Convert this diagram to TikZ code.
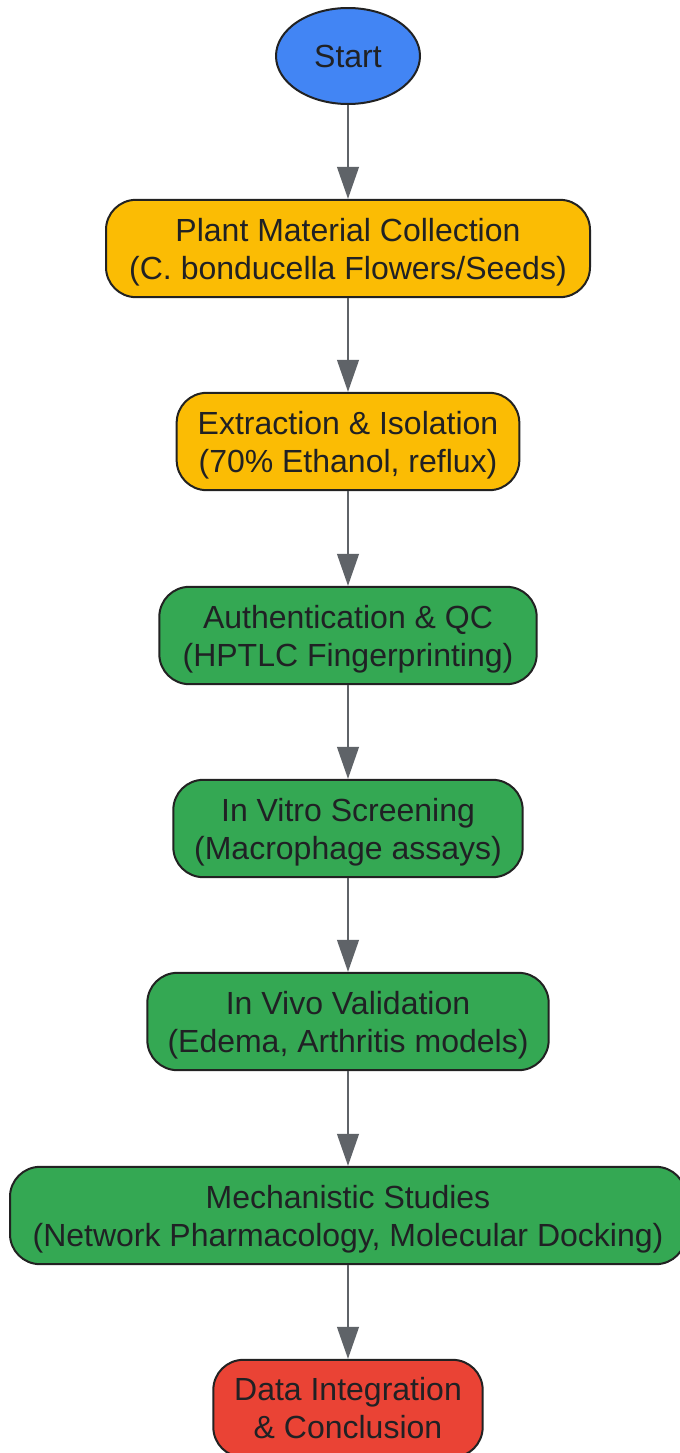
\documentclass[tikz,border=0pt]{standalone}
\usepackage{fontspec}
\setmainfont{Liberation Sans}
\usetikzlibrary{arrows.meta,shapes.geometric}
\definecolor{cblue}{HTML}{4285F4}
\definecolor{cyellow}{HTML}{FBBC04}
\definecolor{cgreen}{HTML}{34A853}
\definecolor{cred}{HTML}{EA4335}
\definecolor{cstroke}{HTML}{222222}
\definecolor{ctext}{HTML}{202124}
\definecolor{carrow}{HTML}{5F6368}
\newcommand{\mytopstrut}{\rule{0pt}{23.5pt}}
\tikzset{
  base/.style={draw=cstroke, line width=1.5pt, text=ctext, inner sep=0pt,
    font=\fontsize{24}{28.5}\selectfont, align=center},
  startnode/.style={base, ellipse, fill=cblue, minimum width=108pt, minimum height=72pt},
  stepbox/.style={base, rectangle, rounded corners=22.5pt, minimum height=73pt},
  yellowbox/.style={stepbox, fill=cyellow},
  greenbox/.style={stepbox, fill=cgreen},
  redbox/.style={stepbox, fill=cred},
  flow/.style={draw=carrow, line width=1.5pt, -{Triangle[length=24pt, width=16.3pt]}, shorten >=0pt}
}
\begin{document}
\begin{tikzpicture}[x=0.75pt, y=-0.75pt]
\useasboundingbox[fill=white] (0,0) rectangle (679,1453);
\node[startnode] (start) at (348,56) {Start};
\node[yellowbox, minimum width=363pt] (plant) at (348,248.5) {\mytopstrut Plant Material Collection\\(C. bonducella Flowers/Seeds)};
\node[yellowbox, minimum width=257pt] (extract) at (348,441.5) {\mytopstrut Extraction \& Isolation\\(70\% Ethanol, reflux)};
\node[greenbox, minimum width=283pt] (auth) at (348,635.5) {\mytopstrut Authentication \& QC\\(HPTLC Fingerprinting)};
\node[greenbox, minimum width=262pt] (vitro) at (348,828.5) {\mytopstrut In Vitro Screening\\(Macrophage assays)};
\node[greenbox, minimum width=301pt] (vivo) at (348,1021.5) {\mytopstrut In Vivo Validation\\(Edema, Arthritis models)};
\node[greenbox, minimum width=507pt] (mech) at (348,1215.5) {\mytopstrut Mechanistic Studies\\(Network Pharmacology, Molecular Docking)};
\node[redbox, minimum width=202pt] (data) at (348,1408.5) {Data Integration\\\& Conclusion};
\draw[flow] (start) -- (plant);
\draw[flow] (plant) -- (extract);
\draw[flow] (extract) -- (auth);
\draw[flow] (auth) -- (vitro);
\draw[flow] (vitro) -- (vivo);
\draw[flow] (vivo) -- (mech);
\draw[flow] (mech) -- (data);
\end{tikzpicture}
\end{document}
